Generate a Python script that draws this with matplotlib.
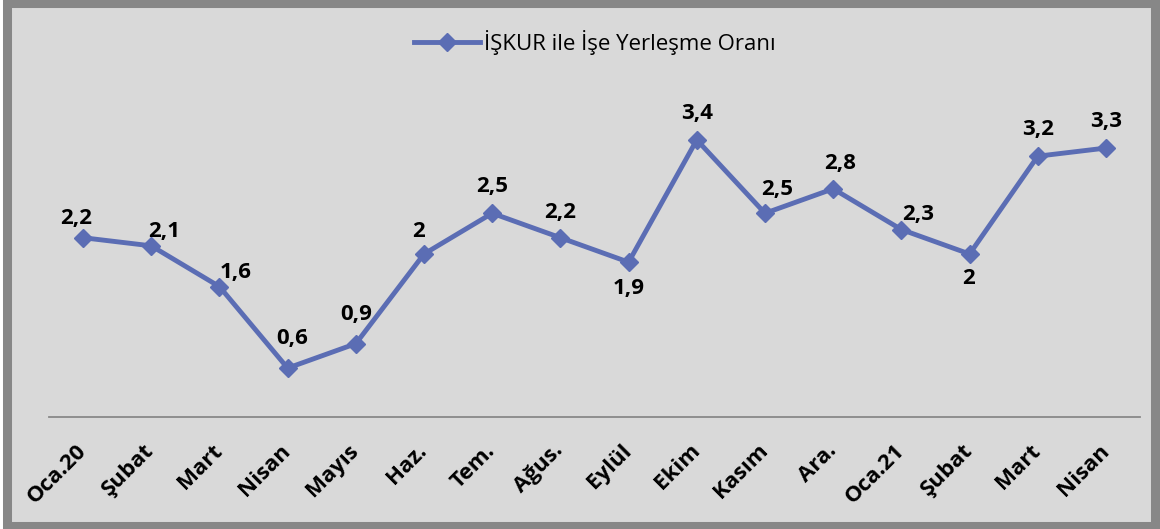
#! /usr/bin/env python3
import matplotlib
matplotlib.use("Agg")
import matplotlib.pyplot as plt
from matplotlib.patches import Rectangle

plt.rcParams['font.family'] = ['Open Sans', 'DejaVu Sans']

months = ["Oca.20", "Şubat", "Mart", "Nisan", "Mayıs", "Haz.", "Tem.", "Ağus.",
          "Eylül", "Ekim", "Kasım", "Ara.", "Oca.21", "Şubat", "Mart", "Nisan"]
rate = [2.2, 2.1, 1.6, 0.6, 0.9, 2.0, 2.5, 2.2, 1.9, 3.4, 2.5, 2.8, 2.3, 2.0, 3.2, 3.3]

# where each data label sits relative to its point (points, +y is up)
label_dx = [-5, 9, 12, 3, 0, -4, 0, 0, 0, 0, 9, 5, 12, -1, 0, 0]
label_dy = [14, 10, 10, 21, 21, 16, 19, 18, -19, 19, 17, 18, 11, -18, 19, 19]

color = "#5b6db4"

fig = plt.figure(figsize=(11.6, 5.29), dpi=100, facecolor="white")
fig.patches.append(Rectangle((0.006, 0.006), 0.99, 0.988, transform=fig.transFigure,
                             facecolor="#d9d9d9", edgecolor="#878787", linewidth=6.5,
                             zorder=-1))
ax = fig.add_axes([0.0422, 0.2117, 0.9406, 0.6163])
ax.set_facecolor("none")

x = list(range(len(months)))
ax.plot(x, rate, color=color, linewidth=3.5, marker="D", markersize=9.5,
        label="İŞKUR ile İşe Yerleşme Oranı")

for i, v in enumerate(rate):
    txt = f"{v:g}".replace(".", ",")
    ax.annotate(txt, (i, v), xytext=(label_dx[i], label_dy[i]), textcoords="offset points",
                ha="center", va="center", fontsize=16, fontweight="bold")

ax.set_xlim(-0.5, len(months) - 0.5)
ax.set_ylim(0, 4)
ax.set_yticks([])
for s in ["top", "right", "left"]:
    ax.spines[s].set_visible(False)
ax.spines["bottom"].set_color("#898989")
ax.spines["bottom"].set_linewidth(1.3)

ax.set_xticks(x)
ax.set_xticklabels(months, rotation=45, ha="right", va="center",
                   rotation_mode="anchor", fontsize=16, fontweight="bold")
ax.tick_params(axis="x", length=0, pad=22)

ax.legend(loc="center", bbox_to_anchor=(0.5, 1.15), frameon=False,
          fontsize=16, handlelength=3.0, handletextpad=0.15)

plt.savefig("out.png", dpi=100, facecolor=fig.get_facecolor())
